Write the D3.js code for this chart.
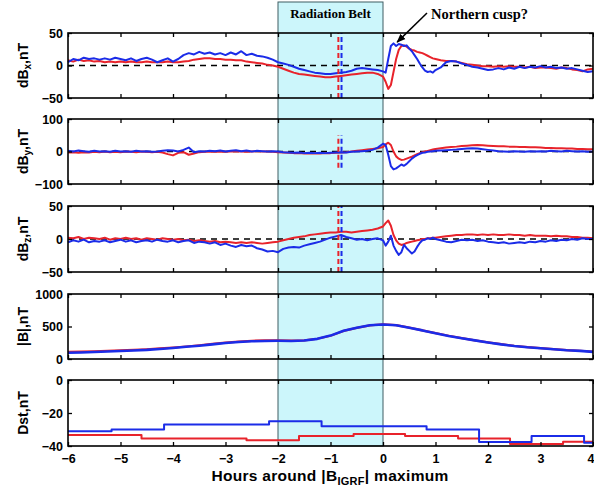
<!DOCTYPE html>
<html><head><meta charset="utf-8">
<script src="https://cdn.jsdelivr.net/npm/d3@7"></script>
<style>body{margin:0;background:#fff}svg{display:block}</style>
</head><body><svg id="c" width="594" height="493"></svg>
<script>
// ---------------- DATA ----------------
const hours = [
 -6,-5.9,-5.8,-5.7,-5.6,-5.5,-5.4,-5.3,-5.2,-5.1,
 -5,-4.9,-4.8,-4.7,-4.6,-4.5,-4.4,-4.3,-4.2,-4.1,
 -4,-3.9,-3.8,-3.7,-3.6,-3.5,-3.4,-3.3,-3.2,-3.1,
 -3,-2.9,-2.8,-2.7,-2.6,-2.5,-2.4,-2.3,-2.2,-2.1,
 -2,-1.9,-1.8,-1.7,-1.6,-1.5,-1.4,-1.3,-1.2,-1.1,
 -1,-0.9,-0.8,-0.7,-0.6,-0.5,-0.4,-0.3,-0.2,-0.1,
 0,0.05,0.1,0.15,0.2,0.25,0.3,0.35,0.4,0.45,0.5,0.55,0.6,0.65,0.7,0.75,0.8,0.85,0.9,0.95,1,
 1.1,1.2,1.3,1.4,1.5,1.6,1.7,1.8,1.9,2,
 2.1,2.2,2.3,2.4,2.5,2.6,2.7,2.8,2.9,3,
 3.1,3.2,3.3,3.4,3.5,3.6,3.7,3.8,3.9,4];

const dBxBlue = [
 5,10,8,12,10,11,9,11,9,12,
 10,8,11,7,10,12,9,5,8,11,
 6,10,16,19,17,21,18,20,17,19,
 16,20,17,22,16,18,15,14,12,9,
 5,3,1,-2,-5,-7,-9,-11,-12,-13,
 -13,-12,-11,-10,-8,-5,-4,-5,-6,-7,
 -9,-11,10,30,34,30,33,32,30,31,26,22,16,10,3,-3,-8,-10,-9,-11,-7,
 -3,5,7,6,3,1,-2,-3,-5,-7,
 -6,-4,-6,-3,-5,-2,-4,-2,-3,-1,
 -3,-2,-4,-3,-5,-4,-6,-8,-10,-9];
const dBxRed = [
 8,6,9,7,8,6,7,5,6,5,
 6,5,6,5,5,6,5,5,5,6,
 5,5,6,7,9,10,11,11,10,10,
 9,9,8,8,6,5,4,3,1,0,
 -2,-5,-8,-11,-13,-14,-15,-16,-17,-18,
 -18,-17,-16,-15,-14,-13,-12,-11,-11,-13,
 -17,-25,-36,-30,-10,10,24,30,31,29,26,24,23,21,20,19,17,15,13,11,10,
 8,7,7,6,4,2,1,0,-1,-1,
 -2,-1,-2,-1,-2,-2,-3,-2,-4,-3,
 -3,-4,-5,-3,-4,-6,-7,-9,-6,-5];

const dByBlue = [
 2,0,3,1,-1,2,0,1,-1,2,
 0,1,-1,2,0,1,-1,0,2,4,
 3,0,5,12,-2,1,0,2,1,3,
 0,2,4,1,3,0,2,1,0,1,
 0,-2,-3,-4,-3,-5,-4,-5,-4,-5,
 -4,-3,-2,-3,-1,0,1,2,5,12,
 24,20,-10,-45,-55,-52,-46,-40,-44,-38,-30,-22,-16,-11,-7,-4,-3,-1,0,1,2,
 3,4,5,6,8,9,10,9,7,5,
 3,1,0,-1,1,0,-1,1,0,1,
 0,2,1,0,2,1,0,1,-1,0];
const dByRed = [
 -3,-2,-4,-2,-3,-1,-2,0,-2,-1,
 -2,0,-1,-2,0,-1,-2,-1,-3,-8,
 -12,-4,-2,-10,-6,-2,-1,0,-1,0,
 -1,0,1,0,-1,0,1,0,0,-1,
 -2,-3,-4,-5,-5,-6,-6,-6,-6,-5,
 -5,-4,-3,-2,0,2,4,6,8,10,
 14,22,27,20,0,-15,-22,-26,-25,-22,-19,-16,-12,-8,-5,-2,0,2,4,6,8,
 10,12,14,15,17,18,19,20,19,18,
 17,16,16,15,15,14,14,13,13,12,
 11,11,10,10,9,9,8,8,7,7];

const dBzBlue = [
 -5,-2,-4,-1,-5,-3,-4,-2,-5,-3,
 -1,-4,-2,-5,-3,-2,-4,-1,-3,-4,
 -2,-5,-3,-2,-6,-4,-5,-7,-5,-9,
 -7,-10,-12,-9,-11,-10,-14,-16,-19,-18,
 -20,-15,-13,-12,-13,-10,-8,-6,-4,-1,
 2,4,6,3,1,-1,0,-2,0,1,
 -2,-10,-4,5,-10,-18,-24,-20,-9,-14,-18,-22,-19,-12,-6,-2,-1,1,0,2,0,
 -2,-4,-5,-3,-1,-2,-1,-3,-2,-4,
 -5,-6,-5,-7,-6,-5,-6,-4,-5,-3,
 -4,-2,-3,-1,-2,0,-1,1,0,0];
const dBzRed = [
 2,1,3,0,2,1,0,2,-1,1,
 0,2,0,1,-1,1,0,-1,1,0,
 -1,0,-2,-1,-3,-2,-3,-4,-3,-5,
 -4,-5,-6,-5,-6,-5,-6,-7,-6,-5,
 -4,-2,0,2,3,4,6,7,8,9,
 10,10,11,11,10,11,12,13,14,16,
 19,24,28,20,6,-2,-7,-9,-8,-6,-5,-4,-3,-2,-1,0,0,1,1,2,2,
 3,4,5,6,6,7,7,6,7,6,
 7,6,6,7,6,6,5,6,5,5,
 5,4,5,4,4,3,3,2,2,1];

const bHours = [-6,-5.75,-5.5,-5.25,-5,-4.75,-4.5,-4.25,-4,-3.75,
 -3.5,-3.25,-3,-2.75,-2.5,-2.25,-2,-1.75,-1.5,-1.25,
 -1,-0.75,-0.5,-0.25,0,0.25,0.5,0.75,1,1.25,
 1.5,1.75,2,2.25,2.5,2.75,3,3.25,3.5,3.75,4];
const bBlue = [95,100,108,115,122,130,140,155,170,188,
 205,225,245,262,272,278,280,278,285,310,
 360,435,480,520,530,520,480,440,395,355,
 320,287,255,225,200,180,165,150,135,125,110];
const bRed = [110,112,118,125,132,140,150,162,175,192,
 212,232,252,268,280,287,288,283,287,312,
 358,432,478,518,535,522,482,440,398,358,
 320,287,257,228,203,183,167,152,138,127,115];

const dstBlueHours = [-6,-5.17,-4.17,-2.17,-1.17,0.83,1.83,2.83,3.83,4];
const dstBlue = [-31,-30,-27,-25,-28,-30,-37.5,-34,-38,-38];
const dstRedHours = [-6,-4.6,-2.6,-1.6,-0.56,0.42,1.43,2.42,3.43,4];
const dstRed = [-33.3,-35.4,-36.5,-34,-32.7,-34,-35.4,-38.8,-37.4,-37.4];

const xTicks = [-6,-5,-4,-3,-2,-1,0,1,2,3,4];
const beltRange = [-2, 0];
const eventHourRed = -0.85, eventHourBlue = -0.79;
const beltLabel = "Radiation Belt";
const cuspLabel = "Northern cusp?";
const cuspPoint = [0.27, 36];

// ---------------- DRAW ----------------
const RED = "#e8232b", BLUE = "#1b2ce8";
const svg = d3.select("#c");
const x = d3.scaleLinear().domain([-6, 4]).range([68, 593]);
const fmt = d3.format("");

const panels = [
 {label:["dB","x",",nT"], domain:[-50,50], ticks:[-50,0,50], top:33, bottom:98, zero:true, vline:true,
  series:[{h:hours,v:dBxRed,c:RED},{h:hours,v:dBxBlue,c:BLUE}]},
 {label:["dB","y",",nT"], domain:[-100,100], ticks:[-100,0,100], top:119, bottom:184, zero:true, vline:true,
  series:[{h:hours,v:dByRed,c:RED},{h:hours,v:dByBlue,c:BLUE}]},
 {label:["dB","z",",nT"], domain:[-50,50], ticks:[-50,0,50], top:206, bottom:272, zero:true, vline:true,
  series:[{h:hours,v:dBzRed,c:RED},{h:hours,v:dBzBlue,c:BLUE}]},
 {label:["|B|,nT"], domain:[0,1000], ticks:[0,500,1000], top:294, bottom:359,
  series:[{h:bHours,v:bRed,c:RED,w:2.2},{h:bHours,v:bBlue,c:BLUE,w:2.6}]},
 {label:["Dst,nT"], domain:[-40,0], ticks:[-40,-20,0], top:380, bottom:446, step:true,
  series:[{h:dstRedHours,v:dstRed,c:RED},{h:dstBlueHours,v:dstBlue,c:BLUE}]}
];

// radiation belt box
svg.append("rect")
  .attr("x", x(beltRange[0])).attr("y", 2)
  .attr("width", x(beltRange[1]) - x(beltRange[0]))
  .attr("height", panels[4].bottom - 2)
  .attr("fill", "#ccf6fb").attr("stroke", "#3f5d63").attr("stroke-width", 1);
svg.append("text").text(beltLabel)
  .attr("x", x((beltRange[0]+beltRange[1])/2)).attr("y", 18)
  .attr("text-anchor","middle")
  .style("font-family","'Liberation Serif','Times New Roman',serif")
  .style("font-weight","bold").style("font-size","13px");

const sans = "'Liberation Sans',Arial,Helvetica,sans-serif";

panels.forEach((p, idx) => {
  const g = svg.append("g");
  const y = d3.scaleLinear().domain(p.domain).range([p.bottom, p.top]);
  if (p.zero) {
    g.append("line").attr("x1", x(-6)).attr("x2", x(4)).attr("y1", y(0)).attr("y2", y(0))
      .attr("stroke","#000").attr("stroke-width",1.5).attr("stroke-dasharray","6,5");
  }
  p.series.forEach(s => {
    const line = d3.line().x((d,i) => x(s.h[i])).y(d => y(d));
    if (p.step) line.curve(d3.curveStepAfter);
    g.append("path").datum(s.v).attr("d", line)
      .attr("fill","none").attr("stroke", s.c).attr("stroke-width", s.w || 2)
      .attr("stroke-linejoin","round");
  });
  if (p.vline) {
    [[eventHourRed, RED],[eventHourBlue, BLUE]].forEach(([h,c]) => {
      g.append("line").attr("x1", x(h)).attr("x2", x(h)).attr("y1", y(-50)).attr("y2", y(50))
        .attr("stroke", c).attr("stroke-width", 2).attr("stroke-dasharray","5,3");
    });
  }
  // axes
  const axB = d3.axisBottom(x).tickValues(xTicks).tickSize(-4).tickSizeOuter(0).tickPadding(8).tickFormat(fmt);
  if (idx !== panels.length - 1) axB.tickFormat(() => "");
  const axT = d3.axisTop(x).tickValues(xTicks).tickSize(-4).tickSizeOuter(0).tickFormat(() => "");
  const axL = d3.axisLeft(y).tickValues(p.ticks).tickSize(-4).tickSizeOuter(0).tickPadding(5).tickFormat(fmt);
  const axR = d3.axisRight(y).tickValues(p.ticks).tickSize(-4).tickSizeOuter(0).tickFormat(() => "");
  const gb = g.append("g").attr("transform", `translate(0,${p.bottom})`).call(axB);
  const gt = g.append("g").attr("transform", `translate(0,${p.top})`).call(axT);
  const gl = g.append("g").attr("transform", `translate(${x(-6)},0)`).call(axL);
  const gr = g.append("g").attr("transform", `translate(${x(4)},0)`).call(axR);
  [gb,gt,gl,gr].forEach(a => {
    a.select(".domain").remove();
    a.selectAll(".tick line").attr("stroke","#000").attr("stroke-width",1.3);
    a.selectAll("text").style("font-family", sans).style("font-weight","bold")
      .style("font-size","12.5px").attr("fill","#000");
  });
  // keep the last x tick label inside the window
  gb.selectAll(".tick").filter(d => d === xTicks[xTicks.length-1]).select("text")
    .attr("text-anchor","end").attr("x", 1);
  g.append("rect").attr("x", x(-6)).attr("y", p.top).attr("width", x(4)-x(-6)).attr("height", p.bottom-p.top)
    .attr("fill","none").attr("stroke","#000").attr("stroke-width",1.6);
  // y label
  const t = g.append("text").attr("transform", `translate(28,${(p.top+p.bottom)/2}) rotate(-90)`)
    .attr("text-anchor","middle")
    .style("font-family", sans).style("font-weight","bold").style("font-size","14px");
  t.append("tspan").text(p.label[0]);
  if (p.label.length > 1) {
    t.append("tspan").text(p.label[1]).attr("dy", 3).style("font-size","10px");
    t.append("tspan").text(p.label[2]).attr("dy", -3);
  }
});

// x label
const xl = svg.append("text").attr("x", 330).attr("y", 481).attr("text-anchor","middle")
  .style("font-family", sans).style("font-weight","bold").style("font-size","15.5px")
  .style("letter-spacing","0.3px");
xl.append("tspan").text("Hours around |B");
xl.append("tspan").text("IGRF").attr("dy", 4).style("font-size","11px");
xl.append("tspan").text("| maximum").attr("dy", -4);

// cusp annotation
const y1 = d3.scaleLinear().domain(panels[0].domain).range([panels[0].bottom, panels[0].top]);
svg.append("defs").append("marker").attr("id","ah").attr("viewBox","0 0 10 10")
  .attr("refX",9).attr("refY",5).attr("markerWidth",6).attr("markerHeight",6).attr("orient","auto")
  .append("path").attr("d","M0,1 L10,5 L0,9 z").attr("fill","#000");
svg.append("line").attr("x1", 427).attr("y1", 13)
  .attr("x2", x(cuspPoint[0])).attr("y2", y1(cuspPoint[1]))
  .attr("stroke","#000").attr("stroke-width",1.5).attr("marker-end","url(#ah)");
svg.append("text").text(cuspLabel).attr("x", 431).attr("y", 19)
  .style("font-family","'Liberation Serif','Times New Roman',serif")
  .style("font-weight","bold").style("font-size","14.5px");
</script></body></html>
